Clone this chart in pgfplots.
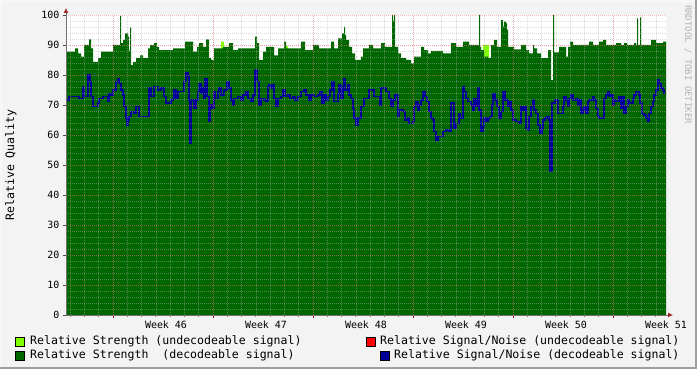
\documentclass[border=0pt]{standalone}
\usepackage{fontspec}
\setmainfont{DejaVu Sans Mono}
\usepackage{pgfplots}
\pgfplotsset{compat=1.18}
\usetikzlibrary{arrows.meta}
\definecolor{bg}{HTML}{F3F3F3}
\definecolor{dkgreen}{HTML}{006600}
\definecolor{ltgreen}{HTML}{80FF00}
\definecolor{snred}{HTML}{FF0000}
\definecolor{snblue}{HTML}{000099}
\definecolor{arrowred}{HTML}{A02828}
\definecolor{wmgray}{HTML}{B4B4B4}
\begin{document}
\begin{tikzpicture}
\useasboundingbox (0,0) rectangle (697bp,369bp);
\fill[bg] (0,0) rectangle (697bp,369bp);
\fill[white!97!black] (0,367bp) rectangle (697bp,369bp);
\fill[white!97!black] (0,0) rectangle (2bp,369bp);
\fill[black!38] (695bp,0) rectangle (697bp,369bp);
\fill[black!38] (0,0) rectangle (697bp,2bp);
\begin{axis}[
  at={(66bp,54bp)}, anchor=south west,
  width=600bp, height=300bp, scale only axis,
  xmin=0, xmax=600, ymin=0, ymax=100,
  axis on top,
  axis background/.style={fill=white},
  axis x line=bottom, axis y line=left,
  axis line style={draw=black!55, line width=0.8bp},
  x axis line style={-{Latex[length=5bp,width=5bp,color=arrowred]}, shorten >=-7bp},
  y axis line style={-{Latex[length=5bp,width=5bp,color=arrowred]}, shorten >=-7bp},
  xtick={47,147,247,347,447,547}, xticklabels={},
  extra x ticks={100,200,300,400,500,600},
  extra x tick labels={Week 46,Week 47,Week 48,Week 49,Week 50,Week 51},
  extra x tick style={xmajorgrids=false, major tick length=0pt, tick label style={yshift=-2bp}},
  minor xtick={4.1429,18.4286,...,600},
  ytick={0,10,...,100},
  minor ytick={2,4,...,98},
  grid=both,
  major grid style={draw=red!80, opacity=0.35, line width=0.6bp, dash pattern=on 1bp off 1bp},
  minor grid style={draw=black!30, opacity=0.45, line width=0.6bp, dash pattern=on 1bp off 1bp},
  tick align=outside,
  major tick length=3bp, minor tick length=2bp,
  major x tick style={draw=red!60!black, line width=0.8bp},
  minor x tick style={draw=black!45, line width=0.8bp},
  major y tick style={draw=black!70, line width=0.8bp},
  minor y tick style={draw=none},
  tick label style={font=\fontsize{10}{12}\selectfont},
  /pgf/number format/assume math mode=true,
  ylabel={Relative Quality},
  ylabel style={font=\fontsize{11.6}{13}\selectfont, at={(axis description cs:-0.0917,0.5)}, anchor=center},
]
% Relative Strength (undecodeable signal), stacked on top of the decodeable strength
\addplot[fill=ltgreen, draw=none, const plot] coordinates {
(155,91.1)(158,0)(220,89.6)(222,0)(417,90)(423,0)
} \closedcycle;
% Relative Strength (decodeable signal)
\addplot[fill=dkgreen, draw=none, const plot] coordinates {
(0,87.8)(9,88.9)(12,87.2)(15,86.1)(18,90)(23,91.9)(25,88.9)(27,84.4)(32,85.6)(35,87.8)
(47,90)(54,99.7)(55,90.6)(57,91.7)(59,93.9)(62,92.8)(63,88)(64,95.9)(65,83.3)(67,84.4)
(70,85.6)(74,86.5)(77,85.6)(82,88.9)(84,90)(88,90.6)(91,89.4)(93,88.3)
(100,88.3)(107,88.9)(119,91.1)(127,87.8)(131,89.4)(133,90.6)(137,89.4)(140,91.9)(143,85.6)(145,85)
(148,88.9)(157,89.4)(163,90.6)(167,88.3)(172,88.9)(189,92.8)(191,90.6)(193,85)(197,87.8)
(200,89.4)(208,86.5)(212,88.9)(218,91.1)(220,88.9)(235,91.1)(239,88.3)(247,90)(253,88.9)
(265,91.1)(268,88.9)(272,92.2)(276,93.9)(278,96.1)(279,93.3)(280,91.7)(283,89.4)(286,87.2)
(289,85)(295,86.1)(297,88.9)
(300,88.9)(303,90)(307,88.9)(315,90.6)(319,89.4)(326,100)(327,98)(328,100)(329,89.4)(332,87.2)
(335,85.6)(340,85)(345,83.9)(348,86.1)(355,89.4)(358,88.3)(362,87.2)(365,88)(377,87.2)
(385,90.6)(390,89.4)(397,91.1)
(400,91.1)(403,90)(413,100)(414,89.4)(415,88.3)(418,86.1)(422,85.6)(425,90)(428,91.7)(431,89.4)
(435,98.3)(437,96.1)(438,97.8)(440,97.2)(441,95)(442,89.4)(448,88.5)(455,90)(460,88.3)
(463,87.2)(467,90)(468,88.9)(471,87.2)(475,85.6)(482,88.3)(485,78.3)(487,100)(488,87.5)(493,89.4)
(500,86.1)(502,89.4)(504,91.1)(507,90)(523,91.1)(527,90)(533,91.1)(537,91.7)(540,90)
(550,90.6)(555,90)(558,90.6)(561,90)(568,90.6)(570,90)(571,98.9)(572,90)(574,99.2)(575,90)
(585,91.7)(590,90.6)(597,91.1)(600,91.1)
} \closedcycle;
% Relative Signal/Noise (decodeable signal)
\addplot[draw=snblue, line width=1.4bp, const plot, mark=none] coordinates {
(0,71.7)(3,72.8)(13,72.2)(17,76.1)(18,72.8)(22,80)(24,77.8)(25,72.8)(27,69.4)(32,70.6)
(33,72.2)(37,72.8)(42,71.1)(43,73.9)(45,73.3)(47,75)(50,77.8)(52,78.9)(53,77.2)(55,75)
(57,73.3)(58,69.4)(60,65.6)(61,63.3)(62,65)(63,66.1)(65,67.8)(68,67.2)(70,69.4)(73,66.1)
(83,75.6)(85,72.8)(88,76.1)(92,75)(95,75.6)(98,72.8)
(100,70.6)(105,71.7)(107,72.2)(108,75)(110,72.2)(112,74.4)(118,77.8)(120,80.6)(122,79.4)
(123,71.7)(124,57.2)(125,71.7)(128,68.9)(130,71.7)(132,74.4)(133,77.2)(135,73.9)(137,75.6)
(138,72.2)(139,78.9)(141,72.8)(143,64.4)(144,70)(146,68.9)(148,74.4)(149,72.2)(152,74.4)
(153,75.6)(155,73.3)(158,75)(161,77.8)(163,75.6)(165,71.7)(167,70)(168,72.2)(172,72.8)
(175,71.7)(177,73.3)(180,74.4)(182,72.2)(185,71.1)(187,73.3)(189,81.7)(191,77.8)(193,70)
(195,72.2)(198,71.7)
(200,71.1)(202,76.1)(203,76.7)(205,75.6)(207,76.7)(208,72.2)(210,69.4)(212,72.2)(215,72.8)
(217,75)(219,72.8)(222,73.3)(224,72.2)(227,72.8)(229,71.7)(232,72.8)(235,74.4)(238,75)
(240,73.3)(243,71.7)(245,73.3)(248,72.8)(252,73.3)(254,74.4)(256,70.6)(258,73.3)(260,71.7)
(262,72.8)(264,75)(266,77.8)(268,71.1)(272,73.9)(273,76.7)(275,72.2)(277,76.1)(278,78.9)
(279,75)(282,76.7)(283,73.3)(285,72.2)(287,68.9)(288,65.6)(290,63.3)(292,65.6)(295,69.4)
(298,72.2)
(300,72.2)(303,75)(308,72.8)(312,72.8)(314,70)(315,75.6)(320,74.4)(323,72.2)(325,69.4)
(327,71.7)(329,73.3)(332,66.1)(333,68.3)(337,67.8)(339,65)(342,65.6)(343,63.9)(347,64.4)
(348,69.4)(350,71.1)(352,68.3)(353,70)(355,71.7)(357,74.4)(359,72.8)(361,71.1)(363,67.8)
(365,65.6)(367,65)(368,61.1)(370,58.3)(372,59.4)(377,61.1)(380,61.7)(383,61.1)(385,70.6)
(387,70.6)(388,62.2)(390,63.9)(393,67.2)(394,65.6)(397,76.1)(398,74.4)
(400,72.2)(402,71.1)(405,70)(407,68.3)(408,72.2)(410,69.4)(412,75.6)(413,68.3)(415,61.1)
(417,62.8)(418,65.6)(420,64.4)(422,65.6)(424,66.1)(426,70)(427,73.9)(429,71.7)(431,69.4)
(433,65.6)(435,67.8)(437,74.4)(439,71.7)(442,69.4)(443,71.1)(445,68.3)(447,65)(450,64.4)
(453,63.9)(455,69.4)(457,68.3)(458,69.4)(460,62.2)(462,61.7)(463,66.1)(465,69.4)(467,71.7)
(468,68.3)(470,67.2)(472,63.3)(474,60.6)(476,62.2)(477,65)(479,65.6)(481,66.1)(483,65)
(484,48)(486,70.6)(489,71.7)(492,67.2)(495,67.2)(497,69.4)(498,72.8)
(500,71.7)(502,69.4)(503,72.2)(505,73.3)(507,71.7)(510,72.2)(512,70)(513,71.7)(515,67.2)
(517,68.3)(518,69.4)(520,67.2)(522,71.1)(523,71.7)(527,72.8)(528,71.7)(530,68.9)(532,66.1)
(533,65.6)(537,65.6)(538,72.2)(540,73.3)(542,74.4)(543,72.8)(545,73.3)(547,70)(548,71.7)
(550,71.1)(553,72.8)(555,68.9)(557,72.8)(558,67.2)(560,69.4)(562,71.7)(563,70.6)(567,72.2)
(568,73.3)(570,74.4)(573,73.3)(574,70.6)(576,67.2)(578,66.7)(580,65.6)(582,64.4)(583,67.2)
(585,69.4)(587,71.1)(588,73.3)(590,75)(592,78.3)(593,77.2)(595,75.6)(597,75)(598,73.9)(600,73.9)
};
\end{axis}
% legend
\begin{scope}[font=\fontsize{11.6}{13}\selectfont]
\draw[fill=ltgreen, line width=0.8bp] (15bp,23bp) rectangle (24bp,32bp);
\node[anchor=west, inner sep=0pt] at (30bp,27.5bp) {Relative Strength (undecodeable signal)};
\draw[fill=dkgreen, line width=0.8bp] (15bp,9bp) rectangle (24bp,18bp);
\node[anchor=west, inner sep=0pt] at (30bp,13.5bp) {Relative Strength\ \ (decodeable signal)};
\draw[fill=snred, line width=0.8bp] (366bp,23bp) rectangle (375bp,32bp);
\node[anchor=west, inner sep=0pt] at (380bp,27.5bp) {Relative Signal/Noise (undecodeable signal)};
\draw[fill=snblue, line width=0.8bp] (380bp,9bp) rectangle (389bp,18bp);
\node[anchor=west, inner sep=0pt] at (394bp,13.5bp) {Relative Signal/Noise (decodeable signal)};
\end{scope}
% watermark
\node[rotate=-90, anchor=west, inner sep=0pt, text=wmgray, font=\fontsize{9}{11}\selectfont] at (688bp,364bp) {RRDTOOL / TOBI OETIKER};
\end{tikzpicture}
\end{document}
